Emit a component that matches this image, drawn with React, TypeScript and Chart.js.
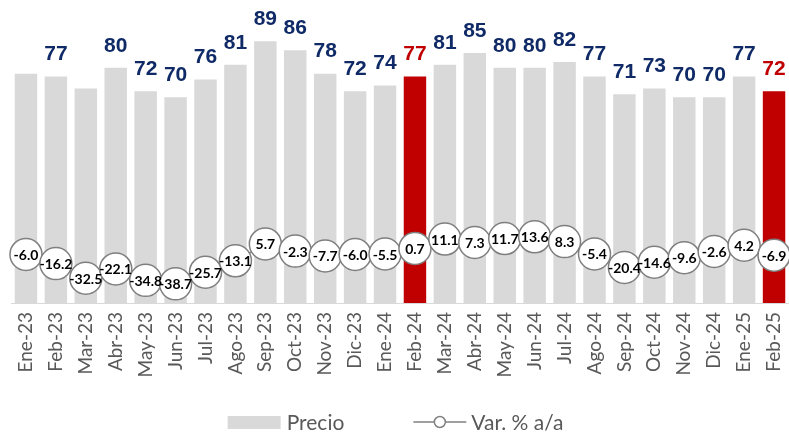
import React, { useEffect, useRef } from 'react';
import { Chart, registerables } from 'chart.js';

Chart.register(...registerables);

const categories = [
  'Ene-23', 'Feb-23', 'Mar-23', 'Abr-23', 'May-23', 'Jun-23', 'Jul-23', 'Ago-23', 'Sep-23', 'Oct-23', 'Nov-23', 'Dic-23',
  'Ene-24', 'Feb-24', 'Mar-24', 'Abr-24', 'May-24', 'Jun-24', 'Jul-24', 'Ago-24', 'Sep-24', 'Oct-24', 'Nov-24', 'Dic-24',
  'Ene-25', 'Feb-25',
];
const precio = [78, 77, 73, 80, 72, 70, 76, 81, 89, 86, 78, 72, 74, 77, 81, 85, 80, 80, 82, 77, 71, 73, 70, 70, 77, 72];
const variacion = [
  -6.0, -16.2, -32.5, -22.1, -34.8, -38.7, -25.7, -13.1, 5.7, -2.3, -7.7, -6.0, -5.5, 0.7,
  11.1, 7.3, 11.7, 13.6, 8.3, -5.4, -20.4, -14.6, -9.6, -2.6, 4.2, -6.9,
];
const highlighted = ['Feb-24', 'Feb-25'];
const unlabeledPrecio = ['Ene-23', 'Mar-23'];
const seriesNames = ['Precio', 'Var. % a/a'];

const GREY = '#d9d9d9';
const RED = '#c00000';
const NAVY = '#0f2a66';
const TEXT = '#595959';
const FONT = 'Lato, "Open Sans", sans-serif';

const labelsPlugin = {
  id: 'valueLabels',
  afterDatasetsDraw(chart: any) {
    const ctx = chart.ctx;
    ctx.save();
    const barMeta = chart.getDatasetMeta(1);
    ctx.textAlign = 'center';
    ctx.textBaseline = 'middle';
    ctx.font = 'bold 21px "Liberation Sans", Arial, sans-serif';
    barMeta.data.forEach((el: any, i: number) => {
      if (unlabeledPrecio.includes(categories[i])) return;
      ctx.fillStyle = highlighted.includes(categories[i]) ? RED : NAVY;
      ctx.fillText(String(precio[i]), el.x, el.y - 22);
    });
    const lineMeta = chart.getDatasetMeta(0);
    ctx.font = 'bold 14px ' + FONT;
    ctx.fillStyle = '#000000';
    lineMeta.data.forEach((el: any, i: number) => {
      ctx.fillText(variacion[i].toFixed(1), el.x, el.y + 1);
    });
    ctx.restore();
  },
  afterDraw(chart: any) {
    const ctx = chart.ctx;
    ctx.save();
    ctx.font = '21px ' + FONT;
    const w1 = ctx.measureText(seriesNames[0]).width;
    const w2 = ctx.measureText(seriesNames[1]).width;
    const boxW = 53;
    const total = boxW + 6 + w1 + 69 + boxW + 5 + w2;
    let x = (chart.width - total) / 2 + 1;
    const y = chart.height - 12;
    ctx.fillStyle = GREY;
    ctx.fillRect(x, y - 6, boxW, 13);
    x += boxW + 6;
    ctx.fillStyle = TEXT;
    ctx.textBaseline = 'middle';
    ctx.textAlign = 'left';
    ctx.fillText(seriesNames[0], x, y + 1);
    x += w1 + 69;
    ctx.strokeStyle = '#808080';
    ctx.lineWidth = 1.5;
    ctx.beginPath();
    ctx.moveTo(x, y);
    ctx.lineTo(x + boxW, y);
    ctx.stroke();
    ctx.beginPath();
    ctx.arc(x + boxW / 2, y, 5.5, 0, Math.PI * 2);
    ctx.fillStyle = '#ffffff';
    ctx.fill();
    ctx.stroke();
    x += boxW + 5;
    ctx.fillStyle = TEXT;
    ctx.fillText(seriesNames[1], x, y + 1);
    ctx.restore();
  },
};

export default function App() {
  const ref = useRef<HTMLCanvasElement | null>(null);
  useEffect(() => {
    if (!ref.current) return;
    const chart = new Chart(ref.current, {
      type: 'bar',
      data: {
        labels: categories,
        datasets: [
          {
            type: 'line',
            label: seriesNames[1],
            data: variacion,
            yAxisID: 'y1',
            order: 0,
            borderColor: '#808080',
            borderWidth: 1.5,
            pointRadius: 16,
            pointHoverRadius: 16,
            pointBackgroundColor: '#ffffff',
            pointBorderColor: '#7f7f7f',
            pointBorderWidth: 1.5,
            tension: 0,
          } as any,
          {
            type: 'bar',
            label: seriesNames[0],
            data: precio,
            yAxisID: 'y',
            order: 1,
            backgroundColor: categories.map((c) => (highlighted.includes(c) ? RED : GREY)),
            categoryPercentage: 1,
            barPercentage: 0.75,
          },
        ],
      },
      options: {
        animation: false,
        responsive: true,
        maintainAspectRatio: false,
        layout: { autoPadding: false, padding: { left: 11, right: -2, top: 9, bottom: 50 } },
        plugins: { legend: { display: false }, tooltip: { enabled: false } },
        scales: {
          x: {
            grid: { display: false, drawTicks: false },
            border: { display: true, color: GREY, width: 1 },
            ticks: {
              maxRotation: 90,
              minRotation: 90,
              padding: 9,
              color: TEXT,
              font: { family: FONT, size: 19 },
              autoSkip: false,
            },
            afterFit(scale: any) {
              scale.height = 81;
              scale.paddingLeft = 0;
              scale.paddingRight = 0;
            },
          },
          y: { display: false, min: 0, max: 100 },
          y1: { display: false, min: -60, max: 267, position: 'right' },
        },
      } as any,
      plugins: [labelsPlugin],
    });
    return () => chart.destroy();
  }, []);
  return (
    <div style={{ position: 'absolute', left: 0, top: 0, width: 789, height: 434 }}>
      <canvas ref={ref} />
    </div>
  );
}
